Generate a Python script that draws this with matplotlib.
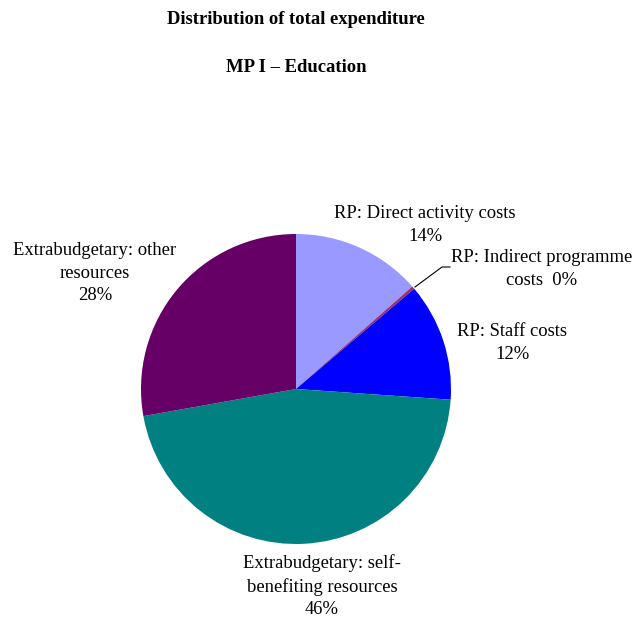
import matplotlib
matplotlib.use("Agg")
import matplotlib.pyplot as plt

categories = ["RP: Direct activity costs", "RP: Indirect programme costs",
              "RP: Staff costs", "Extrabudgetary: self-benefiting resources",
              "Extrabudgetary: other resources"]
values = [13.5, 0.3, 12.3, 46.1, 27.8]
pct_labels = ["14%", "0%", "12%", "46%", "28%"]
colors = ["#9999FF", "#993366", "#0000FF", "#008080", "#660066"]

plt.rcParams['font.family'] = ['Liberation Serif', 'DejaVu Serif']

W, H = 635, 619
fig = plt.figure(figsize=(W / 100, H / 100), dpi=100)
ax = fig.add_axes([0, 0, 1, 1])

def Y(py):
    return H - py

cx, cy, r = 296, 389, 155
ax.pie(values, colors=colors, startangle=90, counterclock=False,
       center=(cx, Y(cy)), radius=r, frame=True,
       wedgeprops=dict(linewidth=0))
ax.set_xlim(0, W)
ax.set_ylim(0, H)
ax.axis("off")
ax.set_aspect("equal")

fs = 13.4
ax.text(296, Y(20), "Distribution of total expenditure", ha="center", va="center",
        fontsize=13.4, fontweight="bold")
ax.text(296, Y(67), "MP I \u2013 Education", ha="center", va="center",
        fontsize=13.4, fontweight="bold")

ls = 1.4
ax.text(425, Y(225), categories[0] + "\n" + pct_labels[0], ha="center", va="center",
        fontsize=fs, linespacing=ls, multialignment="center")
ax.text(542, Y(269), "RP: Indirect programme\ncosts  " + pct_labels[1], ha="center",
        va="center", fontsize=fs, linespacing=ls, multialignment="center")
ax.text(512, Y(343), "RP: Staff costs\n" + pct_labels[2], ha="center", va="center",
        fontsize=fs, linespacing=ls, multialignment="center")
ax.text(322, Y(586), "Extrabudgetary: self-\nbenefiting resources\n" + pct_labels[3],
        ha="center", va="center", fontsize=fs, linespacing=ls, multialignment="center")
ax.text(95, Y(273), "Extrabudgetary: other\nresources\n" + pct_labels[4],
        ha="center", va="center", fontsize=fs, linespacing=ls, multialignment="center")

ax.plot([415, 442, 450], [Y(287), Y(267), Y(267)], color="black", linewidth=0.8)

fig.savefig("out.png", dpi=100, facecolor="white")
